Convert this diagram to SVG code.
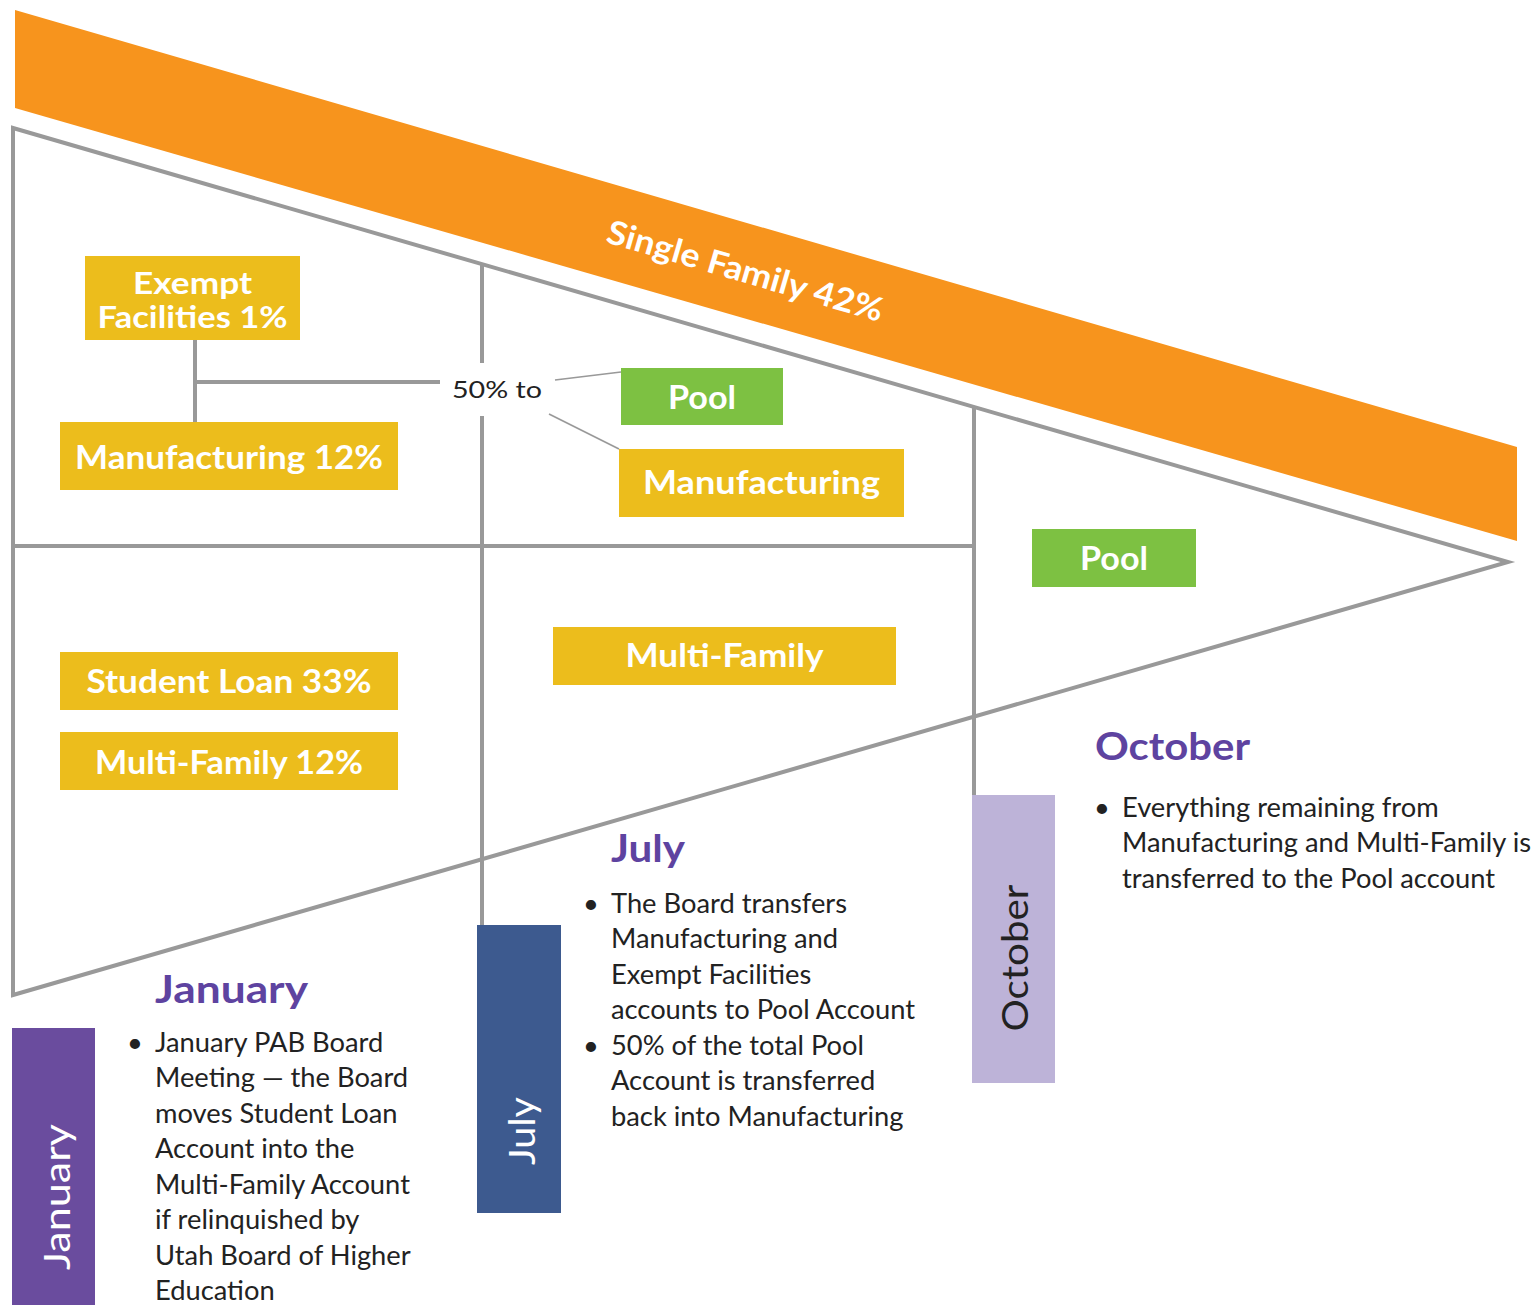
<svg xmlns="http://www.w3.org/2000/svg" width="1537" height="1305" viewBox="0 0 1537 1305">
  <style>
    .frame { fill: none; stroke: #999999; stroke-width: 4; }
    .thin { fill: none; stroke: #999999; stroke-width: 1.6; }
    .yellow { fill: #ECBD1C; }
    .green { fill: #7DC142; }
    .lbl { font-family: Lato, "Noto Sans", sans-serif; font-weight: 700; font-size: 33px; fill: #ffffff; text-anchor: middle; }
    .lbl-sm { font-size: 30px; }
    .head { font-family: Lato, "Noto Sans", sans-serif; font-weight: 700; font-size: 38px; fill: #5E43A0; }
    .body { font-family: Lato, "Noto Sans", sans-serif; font-size: 27.3px; fill: #222222; }
    .bar { font-family: Lato, "Noto Sans", sans-serif; font-size: 36px; text-anchor: middle; }
  </style>

  <rect width="1537" height="1305" fill="#ffffff"/>

  <!-- Single Family band -->
  <g id="single-family">
    <polygon points="15,10 1517,447 1517,541 15,108" fill="#F7941D"/>
    <text class="lbl" transform="translate(742,282) rotate(16.2)" textLength="286" lengthAdjust="spacingAndGlyphs">Single Family 42%</text>
  </g>

  <!-- funnel outline and dividers -->
  <g id="connectors">
    <polygon class="frame" points="13,128 1508,562 13,995"/>
    <line class="frame" x1="13" y1="546" x2="972" y2="546"/>
    <line class="frame" x1="482" y1="265" x2="482" y2="363"/>
    <line class="frame" x1="482" y1="416" x2="482" y2="926"/>
    <line class="frame" x1="974" y1="407" x2="974" y2="796"/>
    <line class="frame" x1="195" y1="340" x2="195" y2="422"/>
    <line class="frame" x1="195" y1="382" x2="440" y2="382"/>
    <line class="thin" x1="555" y1="380" x2="621" y2="372"/>
    <line class="thin" x1="549" y1="414" x2="619" y2="449"/>
    <text x="452" y="398" font-family="Lato, 'Noto Sans', sans-serif" font-size="24" fill="#222222" textLength="90" lengthAdjust="spacingAndGlyphs">50% to</text>
  </g>

  <g id="exempt-facilities">
    <rect class="yellow" x="85" y="256" width="215" height="84"/>
    <text class="lbl lbl-sm" x="192.5" y="294" textLength="119" lengthAdjust="spacingAndGlyphs">Exempt</text>
    <text class="lbl lbl-sm" x="192.5" y="328" textLength="190" lengthAdjust="spacingAndGlyphs">Facilities 1%</text>
  </g>

  <g id="manufacturing-12">
    <rect class="yellow" x="60" y="422" width="338" height="68"/>
    <text class="lbl" x="229" y="469" textLength="308" lengthAdjust="spacingAndGlyphs">Manufacturing 12%</text>
  </g>

  <g id="pool-july">
    <rect class="green" x="621" y="368" width="162" height="57"/>
    <text class="lbl" x="702" y="409" textLength="68" lengthAdjust="spacingAndGlyphs">Pool</text>
  </g>

  <g id="manufacturing-july">
    <rect class="yellow" x="619" y="449" width="285" height="68"/>
    <text class="lbl" x="761.5" y="494" textLength="237" lengthAdjust="spacingAndGlyphs">Manufacturing</text>
  </g>

  <g id="pool-october">
    <rect class="green" x="1032" y="529" width="164" height="58"/>
    <text class="lbl" x="1114" y="570" textLength="68" lengthAdjust="spacingAndGlyphs">Pool</text>
  </g>

  <g id="multi-family-july">
    <rect class="yellow" x="553" y="627" width="343" height="58"/>
    <text class="lbl" x="724.5" y="667" textLength="198" lengthAdjust="spacingAndGlyphs">Multi-Family</text>
  </g>

  <g id="student-loan">
    <rect class="yellow" x="60" y="652" width="338" height="58"/>
    <text class="lbl" x="229" y="693" textLength="285" lengthAdjust="spacingAndGlyphs">Student Loan 33%</text>
  </g>

  <g id="multi-family-12">
    <rect class="yellow" x="60" y="732" width="338" height="58"/>
    <text class="lbl" x="229" y="774" textLength="268" lengthAdjust="spacingAndGlyphs">Multi-Family 12%</text>
  </g>

  <!-- month tabs -->
  <g id="tab-january">
    <rect x="12" y="1028" width="83" height="277" fill="#6A4C9E"/>
    <text class="bar" fill="#ffffff" transform="translate(70,1197) rotate(-90)" textLength="146" lengthAdjust="spacingAndGlyphs">January</text>
  </g>
  <g id="tab-july">
    <rect x="477" y="925" width="84" height="288" fill="#3D5A8F"/>
    <text class="bar" fill="#ffffff" transform="translate(535,1131) rotate(-90)" textLength="68" lengthAdjust="spacingAndGlyphs">July</text>
  </g>
  <g id="tab-october">
    <rect x="972" y="795" width="83" height="288" fill="#BDB3D8"/>
    <text class="bar" fill="#222222" transform="translate(1028,958) rotate(-90)" textLength="147" lengthAdjust="spacingAndGlyphs">October</text>
  </g>

  <!-- month notes -->
  <g id="note-january">
    <text class="head" x="155" y="1003" textLength="153" lengthAdjust="spacingAndGlyphs">January</text>
    <text class="body" x="127" y="1052">•</text>
    <text class="body" x="155" y="1052">January PAB Board</text>
    <text class="body" x="155" y="1087">Meeting — the Board</text>
    <text class="body" x="155" y="1123">moves Student Loan</text>
    <text class="body" x="155" y="1158">Account into the</text>
    <text class="body" x="155" y="1194">Multi-Family Account</text>
    <text class="body" x="155" y="1229">if relinquished by</text>
    <text class="body" x="155" y="1265">Utah Board of Higher</text>
    <text class="body" x="155" y="1300">Education</text>
  </g>

  <g id="note-july">
    <text class="head" x="611" y="862" textLength="74" lengthAdjust="spacingAndGlyphs">July</text>
    <text class="body" x="583" y="913">•</text>
    <text class="body" x="611" y="913">The Board transfers</text>
    <text class="body" x="611" y="948">Manufacturing and</text>
    <text class="body" x="611" y="984">Exempt Facilities</text>
    <text class="body" x="611" y="1019">accounts to Pool Account</text>
    <text class="body" x="583" y="1055">•</text>
    <text class="body" x="611" y="1055">50% of the total Pool</text>
    <text class="body" x="611" y="1090">Account is transferred</text>
    <text class="body" x="611" y="1126">back into Manufacturing</text>
  </g>

  <g id="note-october">
    <text class="head" x="1095" y="760" textLength="155" lengthAdjust="spacingAndGlyphs">October</text>
    <text class="body" x="1094" y="817">•</text>
    <text class="body" x="1122" y="817">Everything remaining from</text>
    <text class="body" x="1122" y="852">Manufacturing and Multi-Family is</text>
    <text class="body" x="1122" y="888">transferred to the Pool account</text>
  </g>
</svg>
